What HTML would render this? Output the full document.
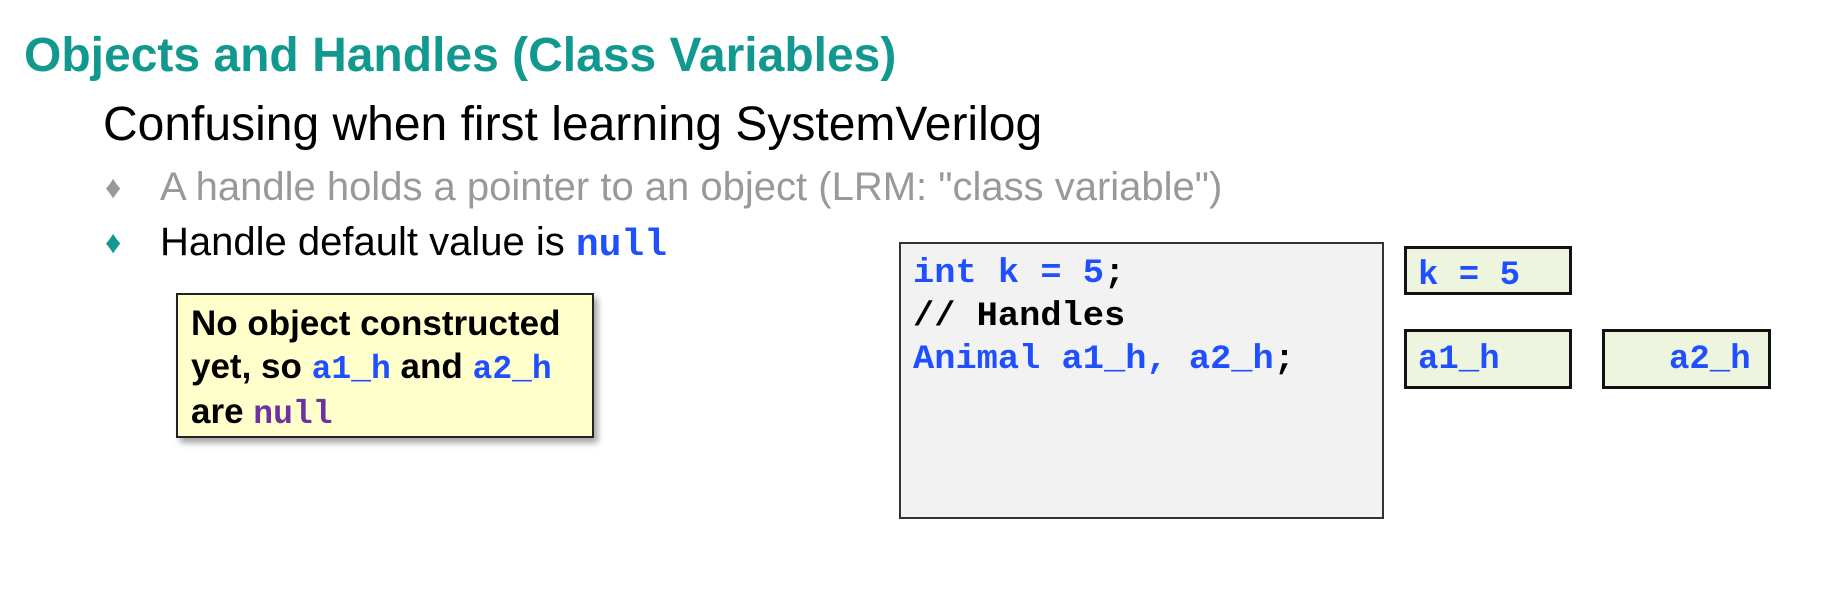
<!DOCTYPE html>
<html><head><meta charset="utf-8"><style>
body{margin:0;width:1828px;height:591px;background:#fff;position:relative;overflow:hidden;font-family:"Liberation Sans",Arial,sans-serif}
.a{position:absolute;white-space:nowrap}
.m{font-family:"Liberation Mono",monospace;font-weight:bold}
.b{color:#1f4fff}
.box{position:absolute;box-sizing:border-box}
</style></head><body>
<div class="a" style="left:24px;top:26px;font-size:48px;font-weight:bold;color:#12998f;line-height:60px">Objects and Handles (Class Variables)</div>
<div class="a" style="left:103px;top:96px;font-size:48px;line-height:58px;color:#000">Confusing when first learning SystemVerilog</div>
<div class="a" style="left:105px;top:169px;font-size:32px;color:#999">&#9830;</div>
<div class="a" style="left:160px;top:164px;font-size:40px;line-height:46px;color:#999">A handle holds a pointer to an object (LRM: "class variable")</div>
<div class="a" style="left:105px;top:224px;font-size:32px;color:#12998f">&#9830;</div>
<div class="a" style="left:160px;top:219px;font-size:40px;line-height:46px;color:#000">Handle default value is <span class="m b" style="font-size:38px">null</span></div>

<div class="box" style="left:176px;top:293px;width:418px;height:145px;background:#ffffcc;border:2px solid #222;box-shadow:4px 5px 6px rgba(0,0,0,0.35)"></div>
<div class="a" style="left:191px;top:303px;font-size:35px;font-weight:bold;line-height:42.5px;color:#000">No object constructed<br>yet, so <span class="m b" style="font-size:33px">a1_h</span> and <span class="m b" style="font-size:33px">a2_h</span><br>are <span class="m" style="color:#7030a0;font-size:33px">null</span></div>

<div class="box" style="left:899px;top:242px;width:485px;height:277px;background:#f2f2f2;border:2px solid #333"></div>
<div class="a m" style="left:913px;top:253px;font-size:34px;line-height:43px;transform:scaleX(1.04);transform-origin:0 0"><span class="b">int k = 5</span>;<br>// Handles<br><span class="b">Animal a1_h, a2_h</span>;</div>

<div class="box" style="left:1404px;top:246px;width:168px;height:49px;background:#eef5df;border:3px solid #111"></div>
<div class="a m b" style="left:1418px;top:256px;font-size:34px;line-height:40px">k = 5</div>
<div class="box" style="left:1404px;top:329px;width:168px;height:60px;background:#eef5df;border:3px solid #111"></div>
<div class="a m b" style="left:1418px;top:340px;font-size:34px;line-height:40px">a1_h</div>
<div class="box" style="left:1602px;top:329px;width:169px;height:60px;background:#eef5df;border:3px solid #111"></div>
<div class="a m b" style="left:1669px;top:340px;font-size:34px;line-height:40px">a2_h</div>
</body></html>
